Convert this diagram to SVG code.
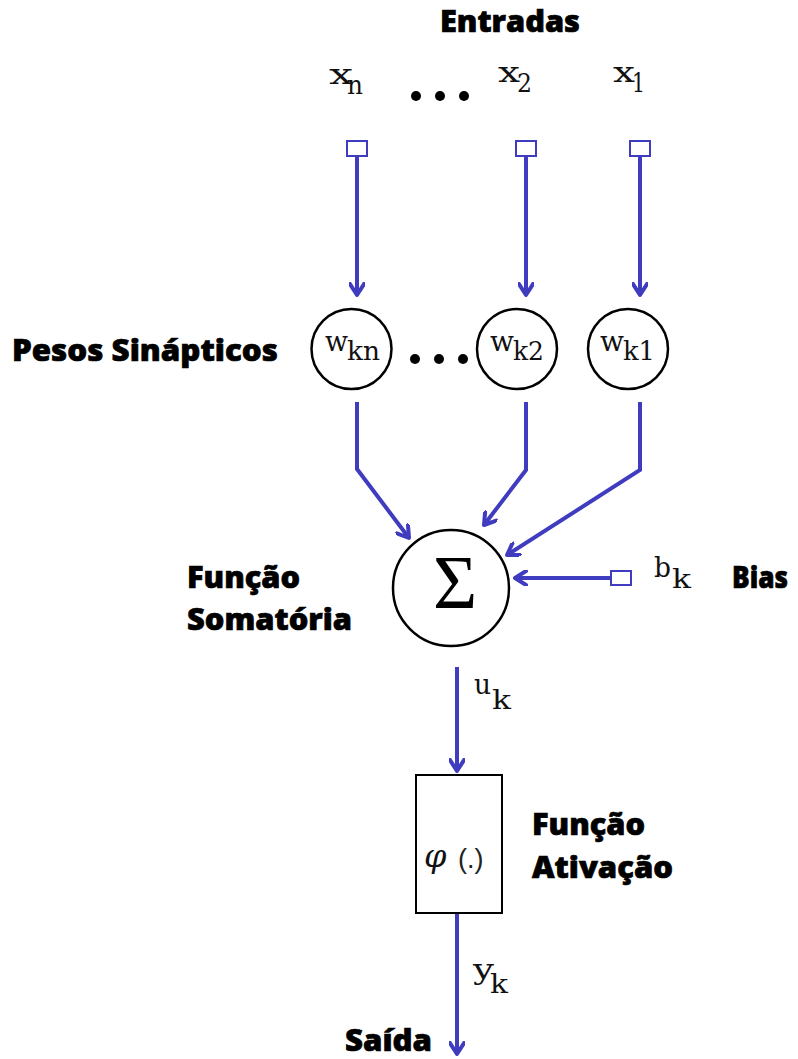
<svg xmlns="http://www.w3.org/2000/svg" width="798" height="1059" viewBox="0 0 798 1059">
  <style>
    .lbl { font-family: "Open Sans", "Liberation Sans", sans-serif; font-weight: 800; font-size: 30px; fill: #000; stroke: #000; stroke-width: 0.7; }
    .math { font-family: "DejaVu Serif", "Liberation Serif", serif; font-size: 28px; fill: #111; }
    .sub { font-family: "DejaVu Serif", "Liberation Serif", serif; font-size: 26px; fill: #111; }
    .wire { fill: none; stroke: #3f3cbf; stroke-width: 4; stroke-linejoin: miter; }
    .port { fill: #fff; stroke: #3f3cbf; stroke-width: 2; }
    .node { fill: #fff; stroke: #000; stroke-width: 2.5; }
    .dot { fill: #000; }
  </style>
  <defs>
    <marker id="arrow" viewBox="0 0 16 16" refX="13" refY="8" markerWidth="16" markerHeight="16" markerUnits="userSpaceOnUse" orient="auto">
      <path d="M2,1 L13,8 L2,15" fill="none" stroke="#3f3cbf" stroke-width="4" stroke-linecap="round" stroke-linejoin="round"/>
    </marker>
  </defs>

  <rect width="798" height="1059" fill="#fff"/>

  <!-- titles and side labels -->
  <text class="lbl" x="440" y="32" textLength="140" lengthAdjust="spacingAndGlyphs">Entradas</text>
  <text class="lbl" x="12" y="361" textLength="266" lengthAdjust="spacingAndGlyphs">Pesos Sinápticos</text>
  <text class="lbl" x="187" y="588" textLength="113" lengthAdjust="spacingAndGlyphs">Função</text>
  <text class="lbl" x="187" y="630" textLength="165" lengthAdjust="spacingAndGlyphs">Somatória</text>
  <text class="lbl" x="732" y="588" textLength="56" lengthAdjust="spacingAndGlyphs">Bias</text>
  <text class="lbl" x="532" y="835" textLength="113" lengthAdjust="spacingAndGlyphs">Função</text>
  <text class="lbl" x="532" y="878" textLength="141" lengthAdjust="spacingAndGlyphs">Ativação</text>
  <text class="lbl" x="345" y="1051" textLength="87" lengthAdjust="spacingAndGlyphs">Saída</text>

  <!-- connectors -->
  <g id="connectors">
    <path class="wire" d="M357,157 V295" marker-end="url(#arrow)"/>
    <path class="wire" d="M526,157 V295" marker-end="url(#arrow)"/>
    <path class="wire" d="M640,157 V295" marker-end="url(#arrow)"/>
    <path class="wire" d="M357,402 V469 L409,538" marker-end="url(#arrow)"/>
    <path class="wire" d="M526,402 V470 L484,525" marker-end="url(#arrow)"/>
    <path class="wire" d="M640,402 V470 L507,555" marker-end="url(#arrow)"/>
    <path class="wire" d="M610,578 H515" marker-end="url(#arrow)"/>
    <path class="wire" d="M457,667 V771" marker-end="url(#arrow)"/>
    <path class="wire" d="M457,913 V1054" marker-end="url(#arrow)"/>
  </g>

  <!-- inputs -->
  <g id="input-xn">
    <text class="math" x="329" y="84" textLength="24" lengthAdjust="spacingAndGlyphs">x</text>
    <text class="sub" x="347" y="94" textLength="16" lengthAdjust="spacingAndGlyphs">n</text>
    <rect class="port" x="347" y="141" width="20" height="15"/>
  </g>
  <g id="input-dots">
    <circle class="dot" cx="416" cy="96" r="5"/>
    <circle class="dot" cx="440" cy="96" r="5"/>
    <circle class="dot" cx="464" cy="96" r="5"/>
  </g>
  <g id="input-x2">
    <text class="math" x="498" y="82" textLength="22" lengthAdjust="spacingAndGlyphs">x</text>
    <text class="sub" x="517" y="92" textLength="15" lengthAdjust="spacingAndGlyphs">2</text>
    <rect class="port" x="516" y="141" width="20" height="15"/>
  </g>
  <g id="input-x1">
    <text class="math" x="613" y="82" textLength="22" lengthAdjust="spacingAndGlyphs">x</text>
    <text class="sub" x="632" y="92" textLength="13" lengthAdjust="spacingAndGlyphs">1</text>
    <rect class="port" x="630" y="141" width="20" height="15"/>
  </g>

  <!-- synaptic weights -->
  <g id="weight-kn">
    <circle class="node" cx="351.5" cy="349" r="40"/>
    <text class="math" x="325" y="351" textLength="23" lengthAdjust="spacingAndGlyphs">w</text>
    <text class="sub" x="347" y="360" textLength="33" lengthAdjust="spacingAndGlyphs">kn</text>
  </g>
  <g id="weight-dots">
    <circle class="dot" cx="415" cy="359" r="5"/>
    <circle class="dot" cx="439" cy="359" r="5"/>
    <circle class="dot" cx="463" cy="359" r="5"/>
  </g>
  <g id="weight-k2">
    <circle class="node" cx="517" cy="349" r="40"/>
    <text class="math" x="490" y="351" textLength="24" lengthAdjust="spacingAndGlyphs">w</text>
    <text class="sub" x="513" y="360" textLength="31" lengthAdjust="spacingAndGlyphs">k2</text>
  </g>
  <g id="weight-k1">
    <circle class="node" cx="628" cy="349" r="40"/>
    <text class="math" x="600" y="351" textLength="24" lengthAdjust="spacingAndGlyphs">w</text>
    <text class="sub" x="623" y="360" textLength="32" lengthAdjust="spacingAndGlyphs">k1</text>
  </g>

  <!-- summing junction -->
  <g id="sum">
    <circle class="node" cx="451" cy="588" r="58"/>
    <text x="455" y="608" text-anchor="middle" style="font-family: 'Liberation Serif', serif; font-size: 76px; fill: #000;">Σ</text>
  </g>

  <!-- bias -->
  <g id="bias">
    <rect class="port" x="611" y="571" width="20" height="14"/>
    <text class="math" x="654" y="577" textLength="17" lengthAdjust="spacingAndGlyphs">b</text>
    <text class="sub" x="672" y="588" textLength="19" lengthAdjust="spacingAndGlyphs">k</text>
  </g>

  <!-- induced field label -->
  <g id="label-uk">
    <text class="math" x="474" y="694" textLength="17" lengthAdjust="spacingAndGlyphs">u</text>
    <text class="sub" x="492" y="709" textLength="19" lengthAdjust="spacingAndGlyphs">k</text>
  </g>

  <!-- activation function -->
  <g id="activation">
    <rect x="416" y="775" width="86" height="138" fill="#fff" stroke="#000" stroke-width="2"/>
    <text x="424" y="867" style="font-family: 'DejaVu Serif', serif; font-style: italic; font-size: 32px; fill: #111;">φ</text>
    <text x="458" y="868" style="font-family: 'Liberation Sans', sans-serif; font-size: 27px; fill: #222;">(.)</text>
  </g>

  <!-- output label -->
  <g id="label-yk">
    <text class="math" x="473" y="979" textLength="21" lengthAdjust="spacingAndGlyphs">y</text>
    <text class="sub" x="490" y="993" textLength="18" lengthAdjust="spacingAndGlyphs">k</text>
  </g>
</svg>
